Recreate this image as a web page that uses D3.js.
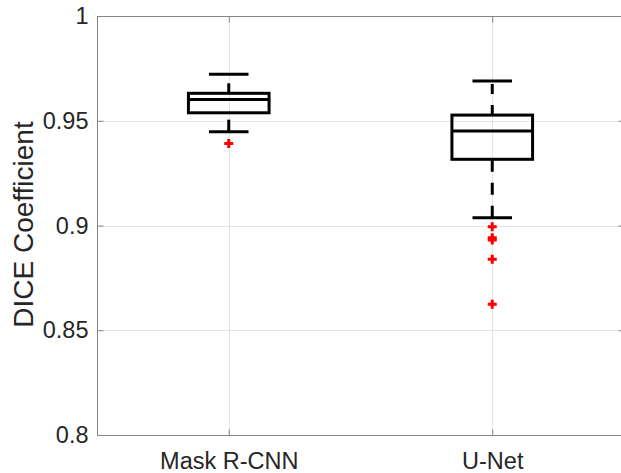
<!DOCTYPE html>
<html lang="en">
<head>
    <meta charset="UTF-8">
    <title>DICE Coefficient Boxplot</title>
    <script src="https://d3js.org/d3.v7.min.js"></script>
    <style>
        body { margin: 0; background: #fff; font-family: "Liberation Sans", Arial, sans-serif; overflow: hidden; }
        svg { display: block; }
    </style>
</head>
<body>
    <script>
        // Box statistics
        const groups = ["Mask R-CNN", "U-Net"];
        const whiskerLow = [0.9448, 0.9037];
        const q1 = [0.9538, 0.9316];
        const medians = [0.9602, 0.9451];
        const q3 = [0.9631, 0.9527];
        const whiskerHigh = [0.9722, 0.9690];
        const outliers = [
            [0.9392],
            [0.8994, 0.8942, 0.8931, 0.8839, 0.8624]
        ];
        const yTicks = [0.8, 0.85, 0.9, 0.95, 1];

        const width = 621, height = 473;
        const plot = {left: 97, right: 624, top: 16, bottom: 435};

        const svg = d3.select("body").append("svg")
            .attr("width", width)
            .attr("height", height);

        // x uses box positions 1..n like MATLAB, xlim [0.5, n + 0.5]
        const x = d3.scaleLinear().domain([0.5, groups.length + 0.5]).range([plot.left, plot.right]);
        const y = d3.scaleLinear().domain([0.8, 1]).range([plot.bottom, plot.top]);

        const boxHalf = 0.153;   // in x units
        const capHalf = 0.075;

        // Grid
        const grid = svg.append("g").attr("stroke", "#e3e3e3").attr("stroke-width", 1);
        grid.selectAll(".hg").data(yTicks.slice(1, -1)).enter().append("line")
            .attr("x1", plot.left).attr("x2", plot.right)
            .attr("y1", d => Math.round(y(d)) + 0.5).attr("y2", d => Math.round(y(d)) + 0.5);
        grid.selectAll(".vg").data(groups).enter().append("line")
            .attr("x1", (d, i) => Math.round(x(i + 1)) + 0.5).attr("x2", (d, i) => Math.round(x(i + 1)) + 0.5)
            .attr("y1", plot.top).attr("y2", plot.bottom);

        // Axes (ticks point inward, mirrored on the top and right sides)
        const xVals = groups.map((d, i) => i + 1);
        const yAxis = svg.append("g")
            .attr("transform", `translate(${plot.left + 0.5},0)`)
            .call(d3.axisLeft(y).tickValues(yTicks).tickFormat(d => String(d)).tickSize(-6).tickPadding(9));
        const xAxis = svg.append("g")
            .attr("transform", `translate(0,${plot.bottom + 0.5})`)
            .call(d3.axisBottom(x).tickValues(xVals)
                .tickFormat((d, i) => groups[i]).tickSize(-6).tickPadding(17));
        const yAxisR = svg.append("g")
            .attr("transform", `translate(${plot.right + 0.5},0)`)
            .call(d3.axisRight(y).tickValues(yTicks).tickFormat("").tickSize(-6));
        const xAxisT = svg.append("g")
            .attr("transform", `translate(0,${plot.top + 0.5})`)
            .call(d3.axisTop(x).tickValues(xVals).tickFormat("").tickSize(-6));

        [yAxis, xAxis, yAxisR, xAxisT].forEach(ax => {
            ax.select(".domain").remove();
            ax.selectAll(".tick line").attr("stroke", "#858585");
            ax.selectAll(".tick text")
                .attr("fill", "#262626")
                .style("font-size", "23.5px")
                .style("font-family", "'Liberation Sans', Arial, sans-serif");
        });

        // Axes box
        svg.append("rect")
            .attr("x", plot.left + 0.5).attr("y", plot.top + 0.5)
            .attr("width", plot.right - plot.left).attr("height", plot.bottom - plot.top)
            .attr("fill", "none").attr("stroke", "#858585").attr("stroke-width", 1);

        // Y label
        svg.append("text")
            .attr("transform", `translate(33,${(plot.top + plot.bottom) / 2 - 1}) rotate(-90)`)
            .attr("text-anchor", "middle")
            .attr("fill", "#262626")
            .style("font-size", "28px")
            .text("DICE Coefficient");

        // Boxes
        const boxes = svg.selectAll(".box").data(groups).enter().append("g")
            .attr("class", "box")
            .attr("fill", "none")
            .attr("stroke", "#000")
            .attr("stroke-width", 3);

        // whiskers, drawn from low value upward with dashes
        boxes.append("line")
            .attr("x1", (d, i) => x(i + 1)).attr("x2", (d, i) => x(i + 1))
            .attr("y1", (d, i) => y(whiskerLow[i])).attr("y2", (d, i) => y(q1[i]))
            .attr("stroke-dasharray", "12,11");
        boxes.append("line")
            .attr("x1", (d, i) => x(i + 1)).attr("x2", (d, i) => x(i + 1))
            .attr("y1", (d, i) => y(q3[i])).attr("y2", (d, i) => y(whiskerHigh[i]))
            .attr("stroke-dasharray", "10,11");

        // caps
        boxes.append("line")
            .attr("x1", (d, i) => x(i + 1 - capHalf)).attr("x2", (d, i) => x(i + 1 + capHalf))
            .attr("y1", (d, i) => y(whiskerLow[i])).attr("y2", (d, i) => y(whiskerLow[i]));
        boxes.append("line")
            .attr("x1", (d, i) => x(i + 1 - capHalf)).attr("x2", (d, i) => x(i + 1 + capHalf))
            .attr("y1", (d, i) => y(whiskerHigh[i])).attr("y2", (d, i) => y(whiskerHigh[i]));

        // box body
        boxes.append("rect")
            .attr("x", (d, i) => x(i + 1 - boxHalf))
            .attr("y", (d, i) => y(q3[i]))
            .attr("width", (d, i) => x(i + 1 + boxHalf) - x(i + 1 - boxHalf))
            .attr("height", (d, i) => y(q1[i]) - y(q3[i]));

        // median
        boxes.append("line")
            .attr("x1", (d, i) => x(i + 1 - boxHalf)).attr("x2", (d, i) => x(i + 1 + boxHalf))
            .attr("y1", (d, i) => y(medians[i])).attr("y2", (d, i) => y(medians[i]));

        // Outliers as red plus signs
        const outlierPts = outliers.flatMap((vals, i) => vals.map(v => ({pos: i + 1, v})));
        svg.append("g").selectAll("path").data(outlierPts).enter().append("path")
            .attr("d", d => {
                const cx = x(d.pos), cy = y(d.v), r = 4.5;
                return `M${cx - r},${cy}H${cx + r}M${cx},${cy - r}V${cy + r}`;
            })
            .attr("stroke", "#ff0000")
            .attr("stroke-width", 3)
            .attr("fill", "none");
    </script>
</body>
</html>
